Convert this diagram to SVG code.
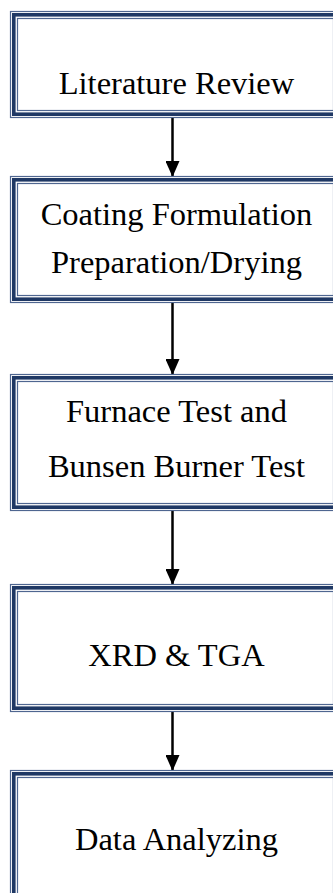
<svg xmlns="http://www.w3.org/2000/svg" width="333" height="893" viewBox="0 0 333 893">
<style>
.o{fill:none;stroke:#4f6690;stroke-width:1.2}
.t{fill:none;stroke:#1f3864;stroke-width:3.6}
.i{fill:none;stroke:#4f6690;stroke-width:1.2}
text{font-family:"Liberation Serif","Times New Roman",serif;font-size:32.5px;fill:#000;text-anchor:middle}
.c{stroke:#000;stroke-width:2.5;fill:none}
</style>
<defs>
<marker id="ah" markerWidth="16" markerHeight="14" refX="16" refY="7" orient="auto" markerUnits="userSpaceOnUse">
<path d="M0,0 L16,7 L0,14 Z" fill="#000"/>
</marker>
</defs>
<rect width="333" height="893" fill="#fff"/>
<g id="connectors">
<line class="c" x1="172.5" y1="118" x2="172.5" y2="177" marker-end="url(#ah)"/>
<line class="c" x1="172.5" y1="303" x2="172.5" y2="375" marker-end="url(#ah)"/>
<line class="c" x1="172.5" y1="511" x2="172.5" y2="585" marker-end="url(#ah)"/>
<line class="c" x1="172.5" y1="712" x2="172.5" y2="771" marker-end="url(#ah)"/>
</g>
<g id="n1">
<rect class="o" x="10.5" y="11.5" width="330" height="106"/>
<rect class="t" x="13.8" y="14.8" width="323.4" height="99.4"/>
<rect class="i" x="17.5" y="18.5" width="316" height="92"/>
<text x="176.5" y="94">Literature Review</text>
</g>
<g id="n2">
<rect class="o" x="10.5" y="176.5" width="330" height="126"/>
<rect class="t" x="13.8" y="179.8" width="323.4" height="119.4"/>
<rect class="i" x="17.5" y="183.5" width="316" height="112"/>
<text x="176.5" y="225">Coating Formulation</text>
<text x="176.5" y="273">Preparation/Drying</text>
</g>
<g id="n3">
<rect class="o" x="10.5" y="374.5" width="330" height="136"/>
<rect class="t" x="13.8" y="377.8" width="323.4" height="129.4"/>
<rect class="i" x="17.5" y="381.5" width="316" height="122"/>
<text x="176.5" y="422">Furnace Test and</text>
<text x="176.5" y="477">Bunsen Burner Test</text>
</g>
<g id="n4">
<rect class="o" x="10.5" y="584.5" width="330" height="127"/>
<rect class="t" x="13.8" y="587.8" width="323.4" height="120.4"/>
<rect class="i" x="17.5" y="591.5" width="316" height="113"/>
<text x="176.5" y="666">XRD &amp; TGA</text>
</g>
<g id="n5">
<rect class="o" x="10.5" y="770.5" width="330" height="140"/>
<rect class="t" x="13.8" y="773.8" width="323.4" height="133.4"/>
<rect class="i" x="17.5" y="777.5" width="316" height="126"/>
<text x="176.5" y="850">Data Analyzing</text>
</g>
</svg>
